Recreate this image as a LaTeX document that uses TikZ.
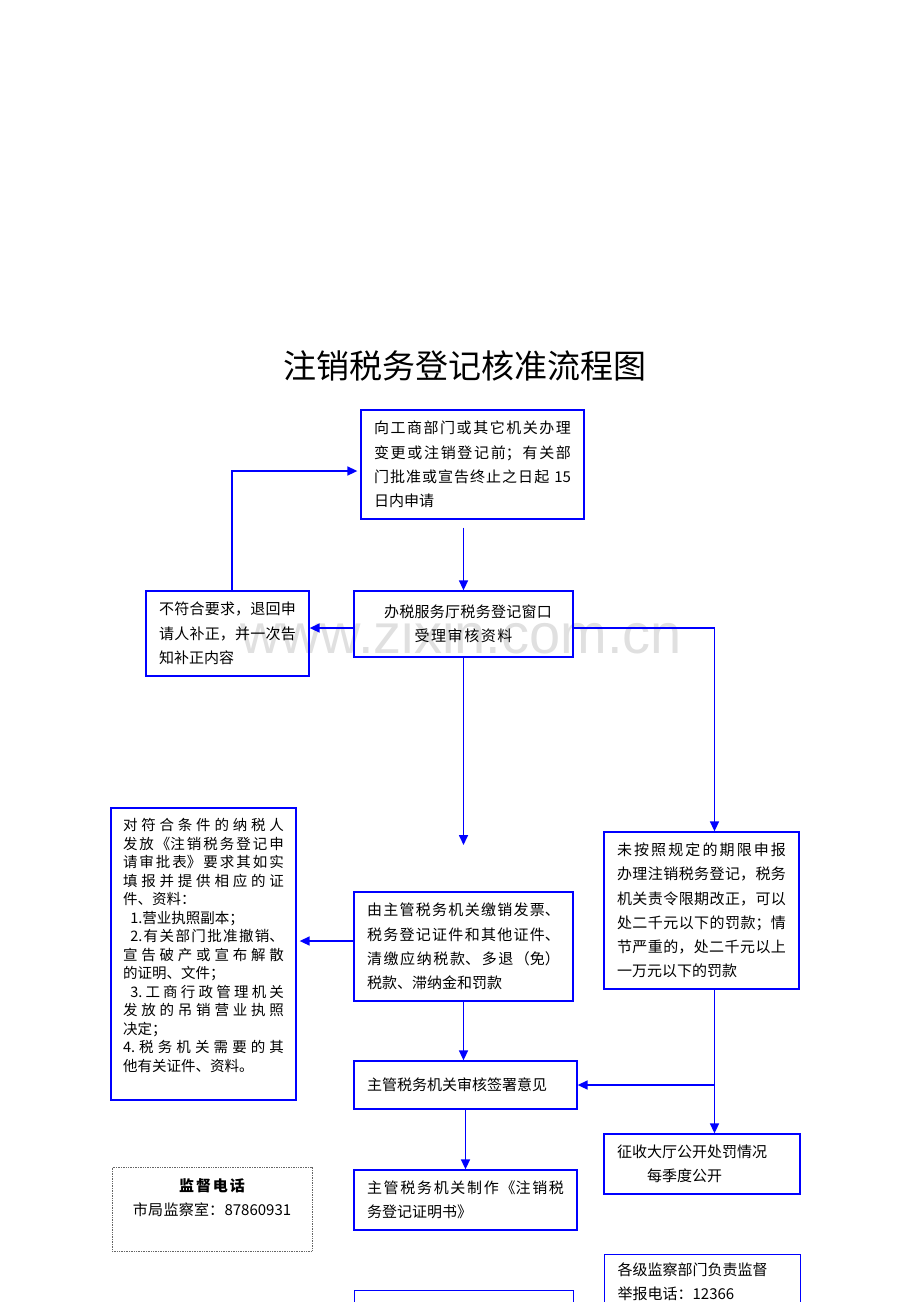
\documentclass[tikz,border=0pt]{standalone}
\usepackage{fontspec}
\setmainfont{Noto Sans CJK SC}
\newfontfamily\markfont{Liberation Sans}
\usetikzlibrary{arrows.meta}
\XeTeXlinebreaklocale "zh" % 汉字之间可伸缩, 便于两端对齐
\XeTeXlinebreakskip=0pt plus 1pt
\tolerance=10000 \hbadness=10000
\tikzset{
    flow box/.style={draw=blue, line width=1.3pt, align=justify, inner xsep=13pt, inner ysep=0pt, font=\fontsize{15}{24.3}\selectfont}, % 流程框
    flow arrow/.style={draw=blue, line width=1.6pt, -{Triangle[length=10pt, width=9pt]}}, % 蓝色箭头
    phone box/.style={draw=black!60, densely dotted, line width=0.7pt, align=center, font=\fontsize{15}{24.3}\selectfont} % 虚线框
}

\begin{document}
\begin{tikzpicture}[x=1pt, y=-1pt]
    \useasboundingbox (0,0) rectangle (920,1302);
    \clip (0,0) rectangle (920,1302);

    \node[font=\markfont\fontsize{56}{56}\selectfont, text=black!12] (mark) at (461,633) {www.zixin.com.cn};
    \node[font=\fontsize{33}{33}\selectfont] (title) at (465,366) {注销税务登记核准流程图};

    \node[flow box, minimum width=223pt, minimum height=109pt, text width=197pt] (apply) at (472.5,464.5)
        {向工商部门或其它机关办理\linebreak 变更或注销登记前；有关部\linebreak 门批准或宣告终止之日起 15\linebreak 日内申请};
    \node[flow box, align=center, minimum width=219pt, minimum height=66pt, text width=193pt] (window) at (463.5,624)
        {\hspace*{.6em}办税服务厅税务登记窗口\\受理审核资料};
    \node[flow box, minimum width=163pt, minimum height=85pt, text width=137pt] (reject) at (227.5,633.5)
        {不符合要求，退回申\linebreak 请人补正，并一次告\linebreak 知补正内容};
    \node[flow box, inner xsep=12pt, font=\fontsize{14.5}{18.5}\selectfont, minimum width=185pt, minimum height=292pt, text width=161pt] (listing) at (203.5,954)
        {对符合条件的纳税人\linebreak 发放《注销税务登记申\linebreak 请审批表》要求其如实\linebreak 填报并提供相应的证\linebreak 件、资料：\par
         \hspace*{.5em}1.营业执照副本；\par
         \hspace*{.5em}2.有关部门批准撤销、\linebreak 宣告破产或宣布解散\linebreak 的证明、文件；\par
         \hspace*{.5em}3.工商行政管理机关\linebreak 发放的吊销营业执照\linebreak 决定；\par
         4.税务机关需要的其\linebreak 他有关证件、资料。\par\rule{0pt}{14pt}};
    \node[flow box, minimum width=219pt, minimum height=109pt, text width=193pt] (middle) at (463.5,946.5)
        {由主管税务机关缴销发票、\linebreak 税务登记证件和其他证件、\linebreak 清缴应纳税款、多退（免）\linebreak 税款、滞纳金和罚款};
    \node[flow box, minimum width=195pt, minimum height=157pt, text width=169pt] (penalty) at (701.5,910.5)
        {未按照规定的期限申报\linebreak 办理注销税务登记，税务\linebreak 机关责令限期改正，可以\linebreak 处二千元以下的罚款；情\linebreak 节严重的，处二千元以上\linebreak 一万元以下的罚款};
    \node[flow box, align=left, minimum width=223pt, minimum height=48pt, text width=197pt] (review) at (465.5,1085)
        {主管税务机关审核签署意见};
    \node[flow box, minimum width=223pt, minimum height=60pt, text width=197pt] (certificate) at (465.5,1200)
        {主管税务机关制作《注销税\linebreak 务登记证明书》};
    \node[flow box, align=left, minimum width=196pt, minimum height=60pt, text width=170pt] (public) at (702,1164)
        {征收大厅公开处罚情况\\\hspace*{2em}每季度公开};
    \node[phone box, minimum width=200pt, minimum height=84pt, text width=180pt] (phone) at (212,1209)
        {{\bfseries 监督电话}\\市局监察室：87860931\\[-8pt]\strut};
    \node[flow box, align=left, anchor=north west, inner ysep=8pt, minimum width=196pt, text width=170pt] (report) at (604,1254)
        {各级监察部门负责监督\\举报电话：12366\\\strut};
    \node[flow box, anchor=north west, minimum width=219pt, minimum height=40pt] (last) at (354,1290) {};

    % 连线
    \coordinate (gap end) at (463.5,845);
    \coordinate (back in) at ([yshift=-6.5pt]apply.west);
    \coordinate (reject top) at ([xshift=4.5pt]reject.north);
    \coordinate (win left) at ([yshift=-4pt]window.west);
    \coordinate (win right) at ([yshift=-4pt]window.east);
    \coordinate (mid left) at ([yshift=5.5pt]middle.west);
    \coordinate (pen head) at ([xshift=13pt]penalty.north);
    \coordinate (pen foot) at ([xshift=13pt]penalty.south);
    \coordinate (meet) at (pen foot |- review.east);

    \draw[flow arrow, shorten <=8pt] (apply.south -| window.north) -- (window.north);
    \draw[flow arrow] (win left) -- (reject.east |- win left);
    \draw[flow arrow, shorten >=3pt] (reject top) |- (back in);
    \draw[flow arrow] (window.south) -- (gap end);
    \draw[flow arrow] (win right) -| (pen head);
    \draw[flow arrow, shorten >=3pt] (mid left) -- (mid left -| listing.east);
    \draw[flow arrow] (middle.south) -- (middle.south |- review.north);
    \draw[flow arrow] (pen foot) -- (meet) -- (review.east);
    \draw[flow arrow] (meet) -- (meet |- public.north);
    \draw[flow arrow] (review.south) -- (certificate.north);
\end{tikzpicture}
\end{document}
